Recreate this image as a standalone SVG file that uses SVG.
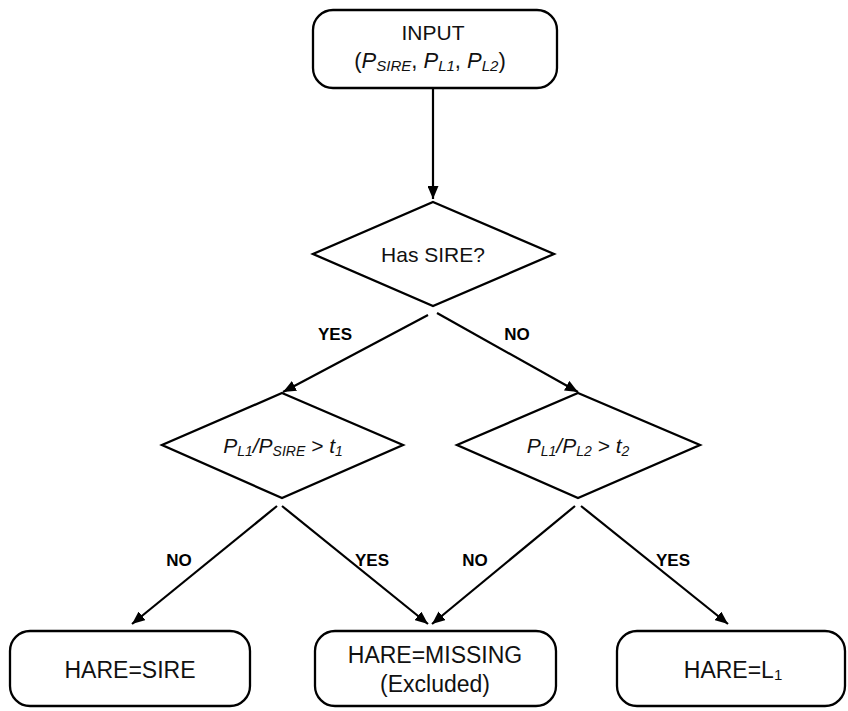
<svg xmlns="http://www.w3.org/2000/svg" width="848" height="711" viewBox="0 0 848 711">
<defs>
<style>
.box{fill:#fff;stroke:#000;stroke-width:2.3}
.dia{fill:#fff;stroke:#000;stroke-width:2.3}
.t{font-family:"Liberation Sans",Arial,sans-serif;fill:#111;text-anchor:middle}
.big{font-size:23px}
.mid{font-size:21px}
.lbl{font-family:"Liberation Sans",Arial,sans-serif;font-size:17px;font-weight:bold;fill:#000;text-anchor:middle}
.it{font-style:italic}
.edge{fill:none;stroke:#000;stroke-width:2.2}
</style>
<marker id="ah" viewBox="0 0 13 11" refX="13" refY="5.5" markerWidth="13" markerHeight="11" markerUnits="userSpaceOnUse" orient="auto">
<path d="M0,0 L13,5.5 L0,11 Z" fill="#000"/>
</marker>
</defs>
<rect width="848" height="711" fill="#fff"/>
<g id="connectors">
<path class="edge" d="M433,88 L433,199" marker-end="url(#ah)"/>
<path class="edge" d="M428,315 L283,392" marker-end="url(#ah)"/>
<path class="edge" d="M437,313 L578,392" marker-end="url(#ah)"/>
<path class="edge" d="M277,506 L132,624" marker-end="url(#ah)"/>
<path class="edge" d="M282,506 L428,624" marker-end="url(#ah)"/>
<path class="edge" d="M575,506 L432,624" marker-end="url(#ah)"/>
<path class="edge" d="M581,506 L728,624" marker-end="url(#ah)"/>
<text class="lbl" x="335" y="340">YES</text>
<text class="lbl" x="517" y="340">NO</text>
<text class="lbl" x="179" y="566">NO</text>
<text class="lbl" x="372" y="566">YES</text>
<text class="lbl" x="475" y="566">NO</text>
<text class="lbl" x="673" y="566">YES</text>
</g>
<g id="input">
<rect class="box" x="313" y="10" width="244" height="78" rx="20"/>
<text class="t mid" x="433" y="40">INPUT</text>
<text class="t" font-size="22" x="430" y="68">(<tspan class="it">P</tspan><tspan class="it" font-size="15" dy="3">SIRE</tspan><tspan dy="-3">, </tspan><tspan class="it">P</tspan><tspan class="it" font-size="15" dy="3">L1</tspan><tspan dy="-3">, </tspan><tspan class="it">P</tspan><tspan class="it" font-size="15" dy="3">L2</tspan><tspan dy="-3">)</tspan></text>
</g>
<g id="has-sire">
<polygon class="dia" points="433,202 554,254 433,306 313,254"/>
<text class="t mid" x="433" y="262">Has SIRE?</text>
</g>
<g id="ratio-sire">
<polygon class="dia" points="282,393 403,445 282,498 162,445"/>
<text class="t mid it" x="283" y="453">P<tspan font-size="14" dy="3">L1</tspan><tspan dy="-3">/P</tspan><tspan font-size="14" dy="3">SIRE</tspan><tspan dy="-3"> &gt; t</tspan><tspan font-size="14" dy="3">1</tspan></text>
</g>
<g id="ratio-l2">
<polygon class="dia" points="578,393 700,445 578,498 457,445"/>
<text class="t mid it" x="578" y="453">P<tspan font-size="14" dy="3">L1</tspan><tspan dy="-3">/P</tspan><tspan font-size="14" dy="3">L2</tspan><tspan dy="-3"> &gt; t</tspan><tspan font-size="14" dy="3">2</tspan></text>
</g>
<g id="hare-sire">
<rect class="box" x="10" y="631" width="240" height="75" rx="20"/>
<text class="t big" x="130" y="678">HARE=SIRE</text>
</g>
<g id="hare-missing">
<rect class="box" x="315" y="631" width="241" height="75" rx="20"/>
<text class="t big" x="435" y="663">HARE=MISSING</text>
<text class="t big" x="435" y="692">(Excluded)</text>
</g>
<g id="hare-l1">
<rect class="box" x="617" y="631" width="228" height="75" rx="20"/>
<text class="t big" x="733" y="678">HARE=L<tspan font-size="15" dy="2">1</tspan></text>
</g>
</svg>
